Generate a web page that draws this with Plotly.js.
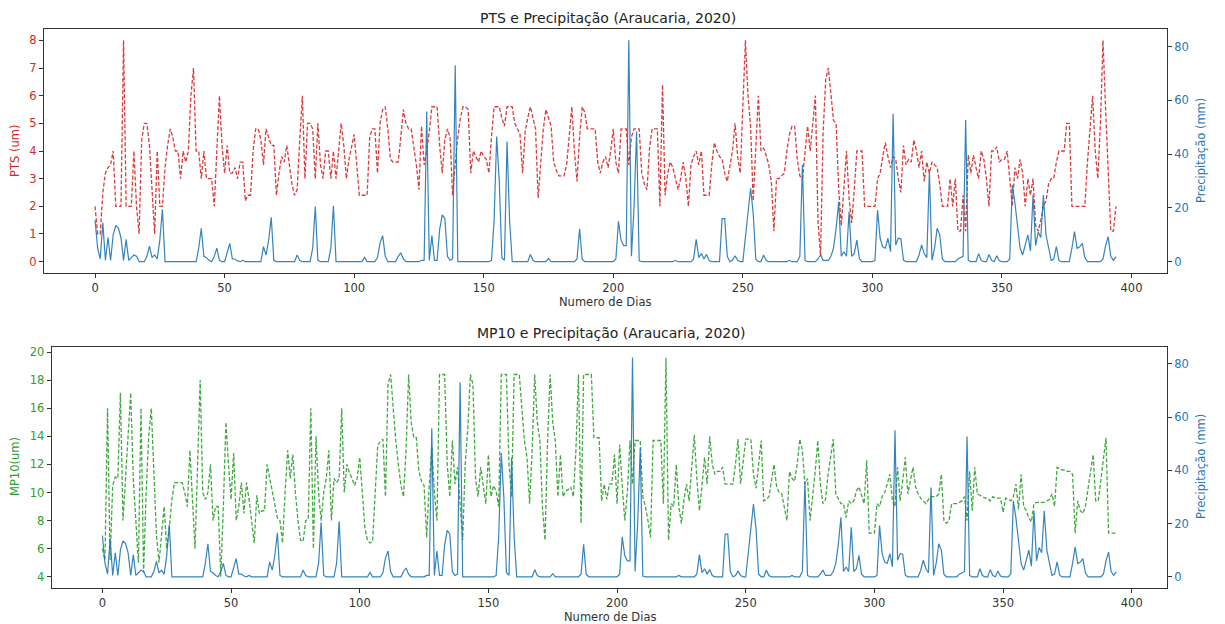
<!DOCTYPE html>
<html>
<head>
<meta charset="utf-8">
<script src="https://cdn.plot.ly/plotly-3.0.1.min.js"></script>
<style>
html,body{margin:0;padding:0;background:#fff;}
#chart{width:1225px;height:624px;}
</style>
</head>
<body>
<div id="chart"></div>
<script>
// ---- data ----
const titleTop = "PTS e Precipitação (Araucaria, 2020)";
const titleBottom = "MP10 e Precipitação (Araucaria, 2020)";
const xLabel = "Numero de Dias";
const ptsLabel = "PTS (um)";
const mp10Label = "MP10(um)";
const precLabel = "Precipitação (mm)";

const PTS = [
2.0,1.0,1.0,2.5,3.2,3.4,3.5,4.0,2.0,2.0,
2.0,8.0,2.0,2.0,2.0,4.0,2.0,1.0,4.4,5.0,
5.0,4.2,2.5,1.0,4.0,2.0,2.0,3.4,4.2,4.8,
4.5,4.0,4.0,3.0,4.0,3.6,4.0,6.0,7.0,4.0,
4.0,3.0,4.0,3.0,3.0,3.0,2.0,4.0,6.0,4.2,
3.2,4.2,3.2,3.2,3.4,3.0,3.6,3.6,2.2,2.4,
2.4,4.0,4.8,4.8,4.4,3.5,4.8,4.5,4.2,4.2,
2.4,3.2,3.8,3.6,4.2,3.5,2.8,2.4,2.6,4.4,
6.0,3.0,5.0,5.0,4.8,3.0,5.0,3.5,3.0,4.0,
4.0,3.0,4.0,3.0,4.0,5.0,4.2,3.0,3.7,4.2,
4.6,3.5,2.4,2.4,2.4,2.4,4.5,4.8,4.8,3.2,
5.0,5.5,5.6,4.8,3.7,3.6,3.6,3.6,4.5,5.5,
5.0,4.8,4.8,4.2,3.5,2.6,4.9,3.5,4.0,4.7,
5.6,5.6,5.6,4.2,3.2,4.4,4.8,4.5,2.4,3.5,
4.5,5.2,5.6,5.6,5.5,3.2,4.0,3.8,3.6,4.0,
3.8,3.7,3.2,4.5,5.6,5.6,5.6,5.2,4.9,5.6,
5.6,5.6,5.0,4.8,4.6,3.2,4.7,5.2,5.6,5.2,
4.8,2.3,3.7,4.8,5.5,5.2,4.9,3.6,3.3,3.1,
3.1,3.1,3.5,4.5,5.6,4.0,2.9,4.5,5.6,5.4,
4.8,4.8,4.8,4.8,3.6,3.2,3.6,3.8,3.4,4.0,
4.8,3.6,3.2,4.8,4.8,4.8,3.5,4.5,4.8,4.8,
4.8,3.2,2.8,2.6,4.1,4.8,4.8,4.8,2.0,6.4,
2.4,3.2,3.6,3.4,3.0,2.6,3.0,3.6,3.0,2.0,
3.5,3.8,4.0,3.5,4.0,2.4,2.4,2.4,3.5,4.3,
4.0,3.8,3.7,3.2,2.9,3.4,4.0,5.0,3.8,3.2,
5.5,8.0,6.0,4.9,2.2,4.0,6.0,4.0,4.1,3.85,
3.5,2.9,1.1,3.0,3.0,3.1,3.2,4.0,4.6,4.9,
4.9,3.7,3.1,3.0,4.0,4.9,4.0,5.0,6.0,1.5,
0.2,4.7,6.6,7.0,6.0,5.1,5.0,2.6,1.3,2.5,
4.0,2.3,1.4,2.6,4.0,4.0,4.0,2.0,2.0,2.0,
2.0,2.0,3.0,3.2,3.8,4.3,3.8,3.4,3.8,3.7,
3.0,2.5,4.2,3.5,3.7,3.6,4.4,4.0,3.4,4.0,
2.9,3.6,3.2,3.6,3.5,3.4,2.8,2.0,2.0,2.0,
3.0,2.0,3.0,1.1,1.1,2.4,1.1,3.85,3.2,3.85,
3.4,3.0,4.0,3.7,3.0,2.0,4.0,4.0,4.15,3.6,
3.7,3.7,4.0,3.0,2.0,3.4,3.0,3.7,3.2,2.0,
3.0,2.4,3.0,1.3,1.1,1.5,2.0,2.2,2.8,3.0,
3.0,3.6,4.0,4.0,4.0,5.0,5.0,2.0,2.0,2.0,
2.0,2.0,2.0,3.6,5.0,6.0,4.0,3.0,5.0,8.0,
5.5,3.0,1.1,1.1,2.0
];

const PRECIP = [
15.5,5,1,14.5,0.5,9,0.5,10,13.5,12.5,
9,0.5,8.3,0.5,1.5,2.5,2,0,0,0,
2,5.8,1.5,2.5,1,8,19.5,0,0,0,
0,0,0,0,0,0,0,0,0,0,
5,12.4,2,1.5,0.5,0,2,5,0.5,0,
0,3,6.8,1,1,0.3,0,0.5,0,0,
0,0,0,0,0,5.6,2.5,8,16.5,0.5,
0,0,0,0,0,0,0,0,2.5,0.5,
0,0,0,0,5,20.5,0.5,0,0,0,
0,5,20.8,0,0,0,0,0,0,0,
0,0,0,0,1.6,0,0,0,0,1.5,
7,9.7,2,0,0,0,0,2,3.3,1,
0,0,0,0,0,0,0.5,0.5,55.8,0.5,
9.7,0.5,0.5,12,17.4,16,2,0.5,1,73,
0,0,0,0,0,0,0,0,0,0,
0,0,0,0.5,15,46.5,30,1.5,0.5,44.7,
15,0,0,0,0,0,0,0,2.7,0.5,
0,0,0,0,0,1.2,0,0,0,0,
0,0,0,0,0,0,1,12.2,1,0,
0,0,0,0,0,0,0,0,0,0,
0,1,15,8,6,6,82.3,2,20,48.4,
0.3,0,0,0,0,0,0,0,0,0,
0,0,0,0,0.5,0,0,0,0,0,
0,1,8.3,1.5,3,1,2.7,0.5,0,0,
0,0,16,16,2,0,0.5,2.2,0.5,0,
0,10,18.6,27.3,18,1,0,0,2.5,0.5,
0,0,0,0,0,0,0,0,0.5,0,
0,0,2,36,0.5,0,0,0,0,1,
2.5,0.5,0.5,0.5,2,5,12.4,22.3,2,3.7,
2,18.6,2,3,8,1,0,0,0,0,
0,0.5,19.2,8.7,5.5,5,8.7,3.7,55,6.2,
8.7,8.5,0.6,0,0,0,0,0,2.5,6.2,
3,1.5,33.5,0.5,5,12.4,10,1,0,0,
0,0,0,1,1.5,2,52.7,0.5,0,0,
0,3,0.5,0,0,2.7,0.5,0,2.2,0.3,
0,0,0,1,28.5,22,14,5,2.5,6,
10,4,24.8,6,11,9,24.8,10,5,0.5,
1,5.6,0.5,0,0,0,0,5,11.2,5,
5.5,6.8,1.5,0,0,0,0,0,0,1,
6,9.3,2,0.5,1.9
];

const MP10 = [
6.0,5.2,16,5.2,10.5,11.1,11,17.1,8,11,
14,17.1,11,8,5,16,4.3,10,14,16,
12,7,5,7,9,6,7.5,9.5,10.7,10.7,
10.7,10.7,10,9,13,9.5,6,12,18,10,
9.5,10,12,8,9,9,4,9,15,12,
9.5,12.8,8,9,10.7,8.5,10.7,9.5,8,6.4,
9.8,8.5,8.7,8.7,12,11,10,9,8.2,8,
6.4,10,13,11,12.7,10,8,6.6,6.5,8,
8.1,16,6,14,10,8,10,11,13,8,
11,10.7,11,16,10,12,11.4,11,10.5,11,
12.5,10,7.5,6.6,6.4,6.5,10,13.4,13.6,13.8,
9.7,17.7,18.4,16,13.7,12,10.5,9.7,13,18.4,
15,13.9,13.9,11.5,10.8,10.5,6.8,10.5,13.2,10,
8,18.4,18.4,18.4,12,9.7,13.7,10.6,11.8,9,
6.6,12,14.6,18.4,17.7,11,9.7,11.8,10.5,9.2,
12.7,9.7,10.5,10.1,9,18.4,18.4,18.4,12,9.7,
18.4,18.4,18.4,16,13.7,12.5,9.2,13,18.4,15,
13.7,9,6.6,13.7,18.4,15,13.7,9.7,12.7,9.7,
10.1,10.2,10.4,9.7,13,18.4,7.8,18.4,18.4,18.4,
18.4,13.9,13.9,13.9,9.4,10.6,9.5,10.6,10.6,12.7,
9.2,13.4,10.5,8,10,13.7,10.6,13.7,13.7,13.7,
9.7,9,8,6.8,13.7,13.7,13.7,13.7,9.2,19.6,
6.6,9.2,9,12,9,7.8,9.5,10.6,9.4,11.5,
14.1,11,8.7,10.5,12.5,10.6,14,12,11.3,11.5,
11.5,11.8,10.6,10.6,10.6,10.6,12,13.8,10.6,12,
13.8,13.8,13.8,11.3,10.3,12,13.7,9.4,9.5,9.7,
11,12,10.4,10,9.9,9,8,11.5,11,10.8,
12,13.8,13,10.6,11,8,9.7,11.5,13.7,10.6,
9.2,9.5,11.3,12.5,13.8,9.9,9.5,9.2,9.2,8.2,
9.4,9.2,9.4,10.1,10.4,9.7,9.2,12.3,7.1,7.1,
7.1,9.2,9,9.7,10,10.6,11.3,9.4,9,11.8,
9.4,10.8,12.5,9.9,10.8,11.8,10.4,9.9,9.6,9.4,
9.2,9.5,9.7,9.7,9.7,9.9,11.3,8,7.8,8,
9.2,9.2,9.2,9.3,9.4,9.7,8,11.5,8.7,11.8,
9.9,9.8,9.7,9.6,9.6,9.4,9.7,9.6,9.6,9.6,
8.6,9.6,9.5,9.4,9.7,10.6,8.8,11.3,9,8.7,
8.2,7.9,9.2,9.3,9.3,9.3,9.3,9.4,9.5,9.9,
9,11.8,11.7,11.6,11.6,11.5,11.5,11.3,7.1,9.4,
8.7,8.5,9,10.4,11.5,12.7,9.4,9.4,11,12.5,
13.9,7.1,7.1,7.1,7.1
];

const xTicks = [0,50,100,150,200,250,300,350,400];
const ptsTicks = [0,1,2,3,4,5,6,7,8];
const mp10Ticks = [4,6,8,10,12,14,16,18,20];
const precTicks = [0,20,40,60,80];

// ---- drawing ----
const days = PTS.map((_, i) => i);
const RED = '#d62728', BLUE = '#1f77b4', GREEN = '#2ca02c', DARK = '#333333';
const FONT = 'DejaVu Sans, Liberation Sans, sans-serif';
const W = 1225, H = 624;

const traces = [
  {x: days, y: PTS, xaxis: 'x', yaxis: 'y', type: 'scatter', mode: 'lines',
   line: {color: RED, width: 1.3, dash: '4px,2px'}, opacity: 0.9, hoverinfo: 'x+y'},
  {x: days, y: PRECIP, xaxis: 'x', yaxis: 'y2', type: 'scatter', mode: 'lines',
   line: {color: BLUE, width: 1.2}, opacity: 0.9, hoverinfo: 'x+y'},
  {x: days, y: MP10, xaxis: 'x2', yaxis: 'y3', type: 'scatter', mode: 'lines',
   line: {color: GREEN, width: 1.3, dash: '4px,2px'}, opacity: 0.9, hoverinfo: 'x+y'},
  {x: days, y: PRECIP, xaxis: 'x2', yaxis: 'y4', type: 'scatter', mode: 'lines',
   line: {color: BLUE, width: 1.2}, opacity: 0.9, hoverinfo: 'x+y'}
];

function xa(domain, anchor) {
  return {domain: domain, anchor: anchor, range: [-19.7, 413.7], tickvals: xTicks,
    ticks: 'outside', ticklen: 4, tickcolor: DARK, showline: true, mirror: true,
    linecolor: DARK, linewidth: 1, showgrid: false, zeroline: false,
    tickfont: {family: FONT, size: 11.5, color: DARK}};
}
function ya(opts) {
  return Object.assign({ticks: 'outside', ticklen: 4, showline: true, linewidth: 1,
    linecolor: DARK, tickcolor: DARK, showgrid: false, zeroline: false}, opts);
}

const topDom = [1 - 272.7 / H, 1 - 29.3 / H];
const botDom = [1 - 587.7 / H, 1 - 346.7 / H];
const xDomTop = [44 / W, 1167 / W];
const xDomBot = [51.7 / W, 1167 / W];

const layout = {
  width: W, height: H, margin: {l: 0, r: 0, t: 0, b: 0},
  paper_bgcolor: '#ffffff', plot_bgcolor: '#ffffff', showlegend: false,
  font: {family: FONT, size: 11, color: DARK},
  xaxis: xa(xDomTop, 'y'),
  xaxis2: xa(xDomBot, 'y3'),
  yaxis: ya({domain: topDom, anchor: 'x', range: [-0.4, 8.4], tickvals: ptsTicks,
    tickfont: {family: FONT, size: 11.5, color: RED}}),
  yaxis2: ya({overlaying: 'y', anchor: 'x', side: 'right', range: [-4.1, 86.4], tickvals: precTicks,
    tickfont: {family: FONT, size: 11.5, color: BLUE}}),
  yaxis3: ya({domain: botDom, anchor: 'x2', range: [3.22, 20.38], tickvals: mp10Ticks,
    tickfont: {family: FONT, size: 11.5, color: GREEN}}),
  yaxis4: ya({overlaying: 'y3', anchor: 'x2', side: 'right', range: [-4.1, 86.4], tickvals: precTicks,
    tickfont: {family: FONT, size: 11.5, color: BLUE}}),
  annotations: [
    {text: titleTop, x: 608 / W, y: 1 - 18 / H, xref: 'paper', yref: 'paper', showarrow: false,
     xanchor: 'center', yanchor: 'middle', font: {family: FONT, size: 14, color: '#222'}},
    {text: titleBottom, x: 611 / W, y: 1 - 333 / H, xref: 'paper', yref: 'paper', showarrow: false,
     xanchor: 'center', yanchor: 'middle', font: {family: FONT, size: 14, color: '#222'}},
    {text: xLabel, x: 605 / W, y: 1 - 302 / H, xref: 'paper', yref: 'paper', showarrow: false,
     xanchor: 'center', yanchor: 'middle', font: {family: FONT, size: 11.5, color: DARK}},
    {text: xLabel, x: 610 / W, y: 1 - 617 / H, xref: 'paper', yref: 'paper', showarrow: false,
     xanchor: 'center', yanchor: 'middle', font: {family: FONT, size: 11.5, color: DARK}},
    {text: ptsLabel, x: 15 / W, y: 1 - 151 / H, xref: 'paper', yref: 'paper', showarrow: false,
     textangle: -90, xanchor: 'center', yanchor: 'middle', font: {family: FONT, size: 11.5, color: RED}},
    {text: mp10Label, x: 15 / W, y: 1 - 467 / H, xref: 'paper', yref: 'paper', showarrow: false,
     textangle: -90, xanchor: 'center', yanchor: 'middle', font: {family: FONT, size: 11.5, color: GREEN}},
    {text: precLabel, x: 1201 / W, y: 1 - 151 / H, xref: 'paper', yref: 'paper', showarrow: false,
     textangle: -90, xanchor: 'center', yanchor: 'middle', font: {family: FONT, size: 11.5, color: BLUE}},
    {text: precLabel, x: 1201 / W, y: 1 - 467 / H, xref: 'paper', yref: 'paper', showarrow: false,
     textangle: -90, xanchor: 'center', yanchor: 'middle', font: {family: FONT, size: 11.5, color: BLUE}}
  ]
};

Plotly.newPlot('chart', traces, layout, {displayModeBar: false, staticPlot: true});
</script>
</body>
</html>
